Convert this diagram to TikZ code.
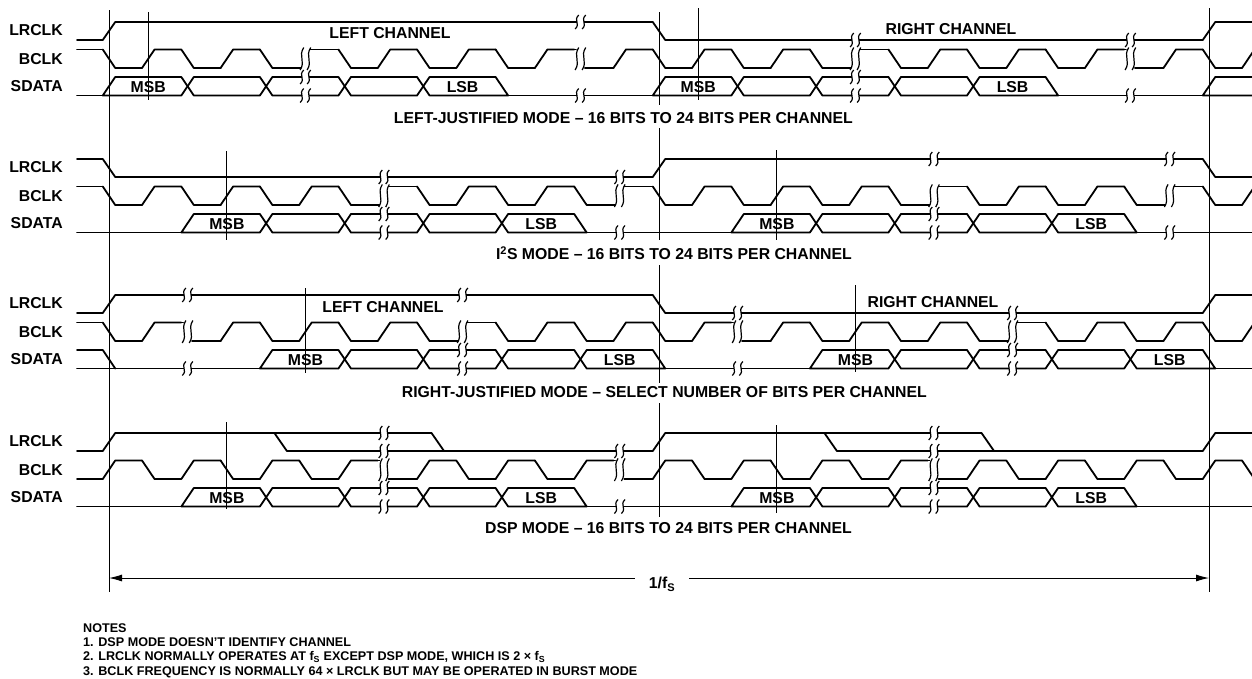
\documentclass[tikz,border=0pt]{standalone}
\usepackage{fontspec}
\setmainfont{Liberation Sans}
\usetikzlibrary{arrows.meta}

\tikzstyle{sig}=[line width=1.8pt,line cap=round,line join=round]
\tikzstyle{wave}=[line width=1.2pt]
\tikzstyle{ref}=[line width=0.9pt]
\tikzstyle{txt}=[font=\fontsize{15.8}{18}\selectfont\bfseries,inner sep=0pt,text height=11.3pt,text depth=0pt]
\tikzstyle{signame}=[txt,anchor=east]
\tikzstyle{note}=[font=\fontsize{12.6}{15}\selectfont\bfseries,inner sep=0pt,text height=9pt,text depth=0pt,anchor=west]

% x of edge number #1 (half a BCLK period per step)
\newcommand\ev[1]{(109+39.2857*(#1))}
\newcommand\tw{6.25}

% break mark: two wiggles at x #1, from y #2 to y #3
\newcommand\wig[3]{%
  \foreach \s in {-3.5,3.5}
    \draw[wave] ({#1+\s+1.8},{#2}) .. controls ({#1+\s-4},{(#2)+0.4*((#3)-(#2))}) and ({#1+\s+4},{(#2)+0.6*((#3)-(#2))}) .. ({#1+\s-1.8},{#3});}

% break in a level line at edge #1, level #2
\newcommand\gap[2]{%
  \fill[white] ({\ev{#1}-3.5},{#2-3}) rectangle ({\ev{#1}+3.5},{#2+3});
  \wig{\ev{#1}}{#2-7}{#2+7}}

% bit clock: #1 base, #2 phase (0 = first edge falls), #3 breaks
\newcommand\bclk[3]{%
  \pgfmathsetmacro\yh{#1+27.5}\pgfmathsetmacro\yl{#1+46}
  \pgfmathsetmacro\ys{#2==0 ? \yh : \yl}
  \draw[sig] (77,\ys) -- ({\ev{0}-\tw},\ys);
  \foreach \n in {0,...,29}{
    \pgfmathsetmacro\xa{\ev{\n}}
    \pgfmathsetmacro\ya{mod(\n+#2,2)==0 ? \yh : \yl}
    \pgfmathsetmacro\yb{mod(\n+#2,2)==0 ? \yl : \yh}
    \gdef\isbrk{0}
    \foreach \bk in {#3}{\ifnum\n=\bk\gdef\isbrk{1}\fi}
    \ifnum\isbrk=0
      \draw[sig] (\xa-\tw,\ya) -- (\xa+\tw,\yb) -- ({\xa+39.2857-\tw},\yb);
    \else
      \draw[sig] (\xa-\tw,\ya) -- (\xa-4.5,\ya);
      \draw[sig] (\xa+4.5,\yb) -- ({\xa+39.2857-\tw},\yb);
      \wig{\xa}{\yh-2}{\yl+2}
    \fi}}

% data cells: #1 base, #2 list of start/left kind/right kind (0 = ramp, 1 = cross)
\newcommand\cells[2]{%
  \pgfmathsetmacro\yt{#1+55}\pgfmathsetmacro\yo{#1+73.5}\pgfmathsetmacro\ym{#1+64.25}
  \foreach \a/\s/\e in {#2}{
    \pgfmathsetmacro\xa{\ev{\a}}\pgfmathsetmacro\xb{\ev{\a+2}}
    \pgfmathsetmacro\xl{\s==1 ? \xa : \xa-\tw}
    \pgfmathsetmacro\yla{\s==1 ? \ym : \yo}
    \pgfmathsetmacro\xlb{\s==1 ? \xa+\tw : \xa-\tw}
    \pgfmathsetmacro\xr{\e==1 ? \xb : \xb+\tw}
    \pgfmathsetmacro\yr{\e==1 ? \ym : \yo}
    \pgfmathsetmacro\xrb{\e==1 ? \xb-\tw : \xb+\tw}
    \draw[sig] (\xl,\yla) -- (\xa+\tw,\yt) -- (\xb-\tw,\yt) -- (\xr,\yr) -- (\xrb,\yo) -- (\xlb,\yo) -- cycle;}}

\begin{document}
\begin{tikzpicture}[x=1pt,y=-1pt]
\useasboundingbox (0,0) rectangle (1252,678);
\clip (0,0) rectangle (1252,678);

% signal names
\foreach \b/\k in {22/1,159/2,295/3,433/4}{
  \node[signame] (lr\k) at (63,\b+7.5) {LRCLK};
  \node[signame] (bc\k) at (63,\b+36.5) {BCLK};
  \node[signame] (sd\k) at (63,\b+64) {SDATA};
}

% ---- left-justified ----
\draw[sig] (77,40) -- ({\ev{0}-\tw},40) -- ({\ev{0}+\tw},22) -- ({\ev{14}-\tw},22) -- ({\ev{14}+\tw},40)
  -- ({\ev{28}-\tw},40) -- ({\ev{28}+\tw},22) -- (1252,22);
\bclk{22}{0}{5,12,19,26}
\cells{22}{0/0/1,2/1/1,4/1/1,6/1/1,8/1/0,14/0/1,16/1/1,18/1/1,20/1/1,22/1/0,28/0/1}
\draw[sig] (77,95.5) -- ({\ev{0}-\tw},95.5);
\draw[sig] ({\ev{10}+\tw},95.5) -- ({\ev{14}-\tw},95.5);
\draw[sig] ({\ev{24}+\tw},95.5) -- ({\ev{28}-\tw},95.5);
\gap{12}{22} \gap{19}{40} \gap{26}{40}
\gap{5}{77} \gap{5}{95.5} \gap{12}{95.5} \gap{19}{77} \gap{19}{95.5} \gap{26}{95.5}
\foreach \c/\t in {1/MSB,9/LSB,15/MSB,23/LSB}
  \node[txt] (a\t\c) at ({\ev{\c}},87) {\t};
\node[txt] (lch1) at (390,32.5) {LEFT CHANNEL};
\node[txt] (rch1) at (951,29) {RIGHT CHANNEL};
\node[txt,anchor=east] (cap1) at (853,118) {LEFT-JUSTIFIED MODE – 16 BITS TO 24 BITS PER CHANNEL};

% ---- I2S ----
\draw[sig] (77,159) -- ({\ev{0}-\tw},159) -- ({\ev{0}+\tw},177) -- ({\ev{14}-\tw},177) -- ({\ev{14}+\tw},159)
  -- ({\ev{28}-\tw},159) -- ({\ev{28}+\tw},177) -- (1252,177);
\bclk{159}{0}{7,13,21,27}
\cells{159}{2/0/1,4/1/1,6/1/1,8/1/1,10/1/0,16/0/1,18/1/1,20/1/1,22/1/1,24/1/0}
\draw[sig] (77,232.5) -- ({\ev{2}-\tw},232.5);
\draw[sig] ({\ev{12}+\tw},232.5) -- ({\ev{16}-\tw},232.5);
\draw[sig] ({\ev{26}+\tw},232.5) -- (1252,232.5);
\gap{7}{177} \gap{13}{177} \gap{21}{159} \gap{27}{159}
\gap{7}{214} \gap{7}{232.5} \gap{13}{232.5} \gap{21}{214} \gap{21}{232.5} \gap{27}{232.5}
\foreach \c/\t in {3/MSB,11/LSB,17/MSB,25/LSB}
  \node[txt] (b\t\c) at ({\ev{\c}},224) {\t};
\node[txt,anchor=east] (cap2) at (852,254) {I\textsuperscript{2}S MODE – 16 BITS TO 24 BITS PER CHANNEL};

% ---- right-justified ----
\draw[sig] (77,313) -- ({\ev{0}-\tw},313) -- ({\ev{0}+\tw},295) -- ({\ev{14}-\tw},295) -- ({\ev{14}+\tw},313)
  -- ({\ev{28}-\tw},313) -- ({\ev{28}+\tw},295) -- (1252,295);
\bclk{295}{0}{2,9,16,23}
\cells{295}{4/0/1,6/1/1,8/1/1,10/1/1,12/1/0,18/0/1,20/1/1,22/1/1,24/1/1,26/1/0}
\draw[sig] (77,350) -- ({\ev{0}-\tw},350) -- ({\ev{0}+\tw},368.5);
\draw[sig] (77,368.5) -- ({\ev{4}-\tw},368.5);
\draw[sig] ({\ev{14}+\tw},368.5) -- ({\ev{18}-\tw},368.5);
\draw[sig] ({\ev{28}+\tw},368.5) -- (1252,368.5);
\gap{2}{295} \gap{9}{295} \gap{16}{313} \gap{23}{313}
\gap{2}{368.5} \gap{9}{350} \gap{9}{368.5} \gap{16}{368.5} \gap{23}{350} \gap{23}{368.5}
\foreach \c/\t in {5/MSB,13/LSB,19/MSB,27/LSB}
  \node[txt] (c\t\c) at ({\ev{\c}},360) {\t};
\node[txt] (lch3) at (383,307) {LEFT CHANNEL};
\node[txt] (rch3) at (933,302) {RIGHT CHANNEL};
\node[txt,anchor=east] (cap3) at (927,392) {RIGHT-JUSTIFIED MODE – SELECT NUMBER OF BITS PER CHANNEL};

% ---- DSP ----
\draw[sig] (77,451) -- ({\ev{0}-\tw},451) -- ({\ev{0}+\tw},433) -- ({\ev{8}+14.5-\tw},433) -- ({\ev{8}+14.5+\tw},451)
  -- ({\ev{14}-\tw},451) -- ({\ev{14}+\tw},433) -- ({\ev{22}+14.5-\tw},433) -- ({\ev{22}+14.5+\tw},451)
  -- ({\ev{28}-\tw},451) -- ({\ev{28}+\tw},433) -- (1252,433);
\draw[sig] ({\ev{4}+14.5-\tw},433) -- ({\ev{4}+14.5+\tw},451) -- ({\ev{8}+14.5+\tw},451);
\draw[sig] ({\ev{18}+14.5-\tw},433) -- ({\ev{18}+14.5+\tw},451) -- ({\ev{22}+14.5+\tw},451);
\bclk{433}{1}{7,13,21}
\cells{433}{2/0/1,4/1/1,6/1/1,8/1/1,10/1/0,16/0/1,18/1/1,20/1/1,22/1/1,24/1/0}
\draw[sig] (77,506.5) -- ({\ev{2}-\tw},506.5);
\draw[sig] ({\ev{12}+\tw},506.5) -- ({\ev{16}-\tw},506.5);
\draw[sig] ({\ev{26}+\tw},506.5) -- (1252,506.5);
\gap{7}{433} \gap{7}{451} \gap{13}{451} \gap{21}{433} \gap{21}{451}
\gap{7}{488} \gap{7}{506.5} \gap{13}{506.5} \gap{21}{488} \gap{21}{506.5}
\foreach \c/\t in {3/MSB,11/LSB,17/MSB,25/LSB}
  \node[txt] (d\t\c) at ({\ev{\c}},498) {\t};
\node[txt,anchor=east] (cap4) at (852,528) {DSP MODE – 16 BITS TO 24 BITS PER CHANNEL};

% reference lines
\draw[ref] ({\ev{0}},10) -- ({\ev{0}},592);
\draw[ref] ({\ev{28}},8) -- ({\ev{28}},592);
\foreach \t/\u in {12/105,128/240,265/383,403/517}
  \draw[ref] ({\ev{14}},\t) -- ({\ev{14}},\u);
\foreach \n/\t/\u in {1/12/100,15/8/100,3/151/240,17/150/240,5/288/373,19/285/372,3/422/509,17/425/513}
  \draw[ref] ({\ev{\n}},\t) -- ({\ev{\n}},\u);

% frame period
\coordinate (tl) at ({\ev{0}},578);
\coordinate (tr) at ({\ev{28}},578);
\node[txt,inner xsep=14pt] (per) at (662,583) {1/f\textsubscript{S}};
\draw[ref,-{Latex[length=13pt,width=7pt]}] (tl -| per.west) -- (tl);
\draw[ref,-{Latex[length=13pt,width=7pt]}] (tr -| per.east) -- (tr);

% notes
\node[note] (nt0) at (83,628) {NOTES};
\node[note] (nt1) at (83,642) {1. DSP MODE DOESN’T IDENTIFY CHANNEL};
\node[note] (nt2) at (83,656) {2. LRCLK NORMALLY OPERATES AT f\textsubscript{S} EXCEPT DSP MODE, WHICH IS 2 × f\textsubscript{S}};
\node[note] (nt3) at (83,671) {3. BCLK FREQUENCY IS NORMALLY 64 × LRCLK BUT MAY BE OPERATED IN BURST MODE};
\end{tikzpicture}
\end{document}
